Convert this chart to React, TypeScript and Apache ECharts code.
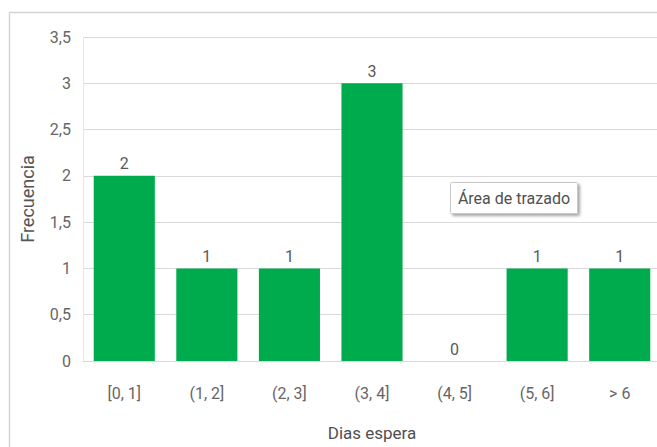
import React, { useEffect, useRef } from "react";
import * as echarts from "echarts";

const categories = ["[0, 1]", "(1, 2]", "(2, 3]", "(3, 4]", "(4, 5]", "(5, 6]", "> 6"];
const frequencies = [2, 1, 1, 3, 0, 1, 1];
const yTickLabels = ["0", "0,5", "1", "1,5", "2", "2,5", "3", "3,5"];
const xAxisTitle = "Dias espera";
const yAxisTitle = "Frecuencia";
const tooltipText = "Área de trazado";

const FONT = "'Roboto', 'Liberation Sans', sans-serif";

export default function App() {
  const ref = useRef<HTMLDivElement>(null);
  useEffect(() => {
    if (!ref.current) return;
    const chart = echarts.init(ref.current, undefined, { renderer: "svg" });
    chart.setOption({
      animation: false,
      backgroundColor: "#ffffff",
      grid: { left: 83, top: 37, right: 19, bottom: 86, containLabel: false },
      xAxis: {
        type: "category",
        data: categories,
        axisLine: { show: true, lineStyle: { color: "#d9d9d9", width: 1 } },
        axisTick: { show: false },
        axisLabel: { color: "#666666", fontSize: 16, fontFamily: FONT, margin: 24 },
        name: xAxisTitle,
        nameLocation: "middle",
        nameGap: 63,
        nameTextStyle: { color: "#505050", fontSize: 17, fontFamily: FONT },
      },
      yAxis: {
        type: "value",
        min: 0,
        max: 3.5,
        interval: 0.5,
        axisLine: { show: true, lineStyle: { color: "#e6e6e6" } },
        axisTick: { show: false },
        splitLine: { show: true, lineStyle: { color: "#d9d9d9", width: 1 } },
        axisLabel: {
          color: "#666666",
          fontSize: 16,
          fontFamily: FONT,
          margin: 12,
          formatter: (v: number) => yTickLabels[Math.round(v / 0.5)] ?? String(v),
        },
        name: yAxisTitle,
        nameLocation: "middle",
        nameGap: 47,
        nameRotate: 90,
        nameTextStyle: { color: "#555555", fontSize: 18, fontFamily: FONT },
      },
      series: [
        {
          type: "bar",
          data: frequencies,
          barWidth: "74%",
          itemStyle: { color: "#00AB4E" },
          label: {
            show: true,
            position: "top",
            distance: 4,
            color: "#595959",
            fontSize: 16,
            fontFamily: FONT,
          },
        },
      ],
      graphic: [
        {
          type: "rect",
          silent: true,
          z: -1,
          shape: { x: 9.5, y: 12.5, width: 700, height: 500 },
          style: { fill: "none", stroke: "#d4d4d4", lineWidth: 1.5 },
        },
        {
          type: "group",
          left: 450,
          top: 182,
          children: [
            {
              type: "rect",
              shape: { x: 0, y: 0, width: 127, height: 31, r: 1 },
              style: {
                fill: "#ffffff",
                stroke: "#c8c8c8",
                lineWidth: 1,
                shadowBlur: 3,
                shadowOffsetX: 2,
                shadowOffsetY: 2,
                shadowColor: "rgba(0,0,0,0.35)",
              },
            },
            {
              type: "text",
              x: 63.5,
              y: 16,
              style: {
                text: tooltipText,
                fill: "#505050",
                fontSize: 16,
                fontFamily: FONT,
                align: "center",
                verticalAlign: "middle",
              },
            },
          ],
        },
      ],
    });
    return () => chart.dispose();
  }, []);
  return (
    <div style={{ position: "fixed", left: 0, top: 0, width: 657, height: 447, overflow: "hidden" }}>
      <div ref={ref} style={{ width: 680, height: 447 }} />
    </div>
  );
}
